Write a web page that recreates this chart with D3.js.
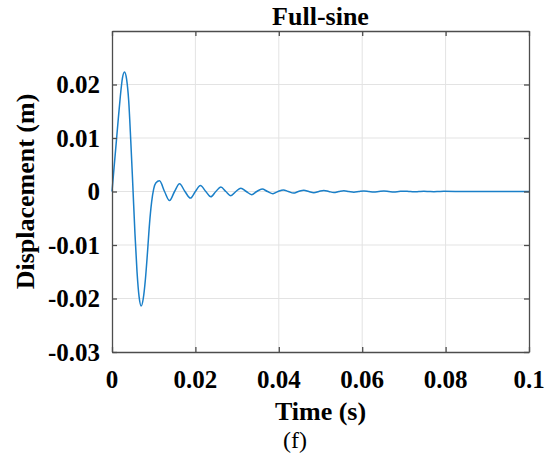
<!DOCTYPE html>
<html>
<head>
<meta charset="utf-8">
<script src="https://cdn.jsdelivr.net/npm/d3@7"></script>
<style>
  body { margin: 0; background: #fff; }
  text { font-family: "Liberation Serif", "Times New Roman", serif; fill: #000; }
</style>
</head>
<body>
<div id="chart"></div>
<script>
// time (s) and displacement (m)
const timeS = [0, 0.0005, 0.001, 0.0015, 0.002, 0.0025, 0.003, 0.0035, 0.004, 0.0045, 0.005,
  0.0055, 0.006, 0.0065, 0.007, 0.0075, 0.008, 0.0085, 0.009, 0.0095, 0.01, 0.0105, 0.0114,
  0.0126, 0.0138, 0.015, 0.0162, 0.0175, 0.0188, 0.02, 0.0212, 0.0225, 0.0237, 0.0249, 0.0261,
  0.0273, 0.0285, 0.0297, 0.0309, 0.0322, 0.0335, 0.0347, 0.036, 0.0373, 0.0386, 0.0398, 0.0411,
  0.0423, 0.0435, 0.0447, 0.046, 0.0472, 0.0484, 0.0496, 0.0508, 0.052, 0.0532, 0.0544, 0.0556,
  0.0568, 0.058, 0.0592, 0.0604, 0.0616, 0.0628, 0.064, 0.0652, 0.0664, 0.0676, 0.0688, 0.07,
  0.0712, 0.0724, 0.0736, 0.0748, 0.076, 0.0772, 0.0784, 0.0796, 0.085, 0.1];
const dispM = [0, 0.0045, 0.009, 0.0135, 0.0178, 0.0212, 0.02235, 0.021, 0.017, 0.0095, 0.001,
  -0.0078, -0.015, -0.0197, -0.0214, -0.02, -0.0165, -0.0115, -0.006, -0.002, 0.0005, 0.0016, 0.002,
  0, -0.0017, 0, 0.00143, 0, -0.00123, 0, 0.0011, 0, -0.001, 0, 0.00082,
  0, -0.00078, 0, 0.00063, 0, -0.0006, 0, 0.00045, 0, -0.0004, 0, 0.0003,
  0, -0.0003, 0, 0.00025, 0, -0.00022, 0, 0.0002, 0, -0.00018, 0, 0.00015,
  0, -0.00013, 0, 0.00011, 0, -0.0001, 0, 0.00009, 0, -0.00008, 0, 0.00007,
  0, -0.00006, 0, 0.00005, 0, -0.00004, 0, 0.00003, 0, 0];

const xTicks = [0, 0.02, 0.04, 0.06, 0.08, 0.1];
const xTickLabels = ["0", "0.02", "0.04", "0.06", "0.08", "0.1"];
const yTicks = [-0.03, -0.02, -0.01, 0, 0.01, 0.02];
const yTickLabels = ["-0.03", "-0.02", "-0.01", "0", "0.01", "0.02"];

const width = 549, height = 459,
  margin = {top: 31, right: 20, bottom: 107, left: 112};

const svg = d3.select("#chart").append("svg")
  .attr("width", width)
  .attr("height", height);

const xScale = d3.scaleLinear().domain([0, 0.1]).range([margin.left, width - margin.right]);
const yScale = d3.scaleLinear().domain([-0.03, 0.03]).range([height - margin.bottom, margin.top]);

const axisColor = "#4d4d4d";

// grid
svg.append("g").selectAll("line.gx")
  .data(xTicks.slice(1, -1))
  .enter().append("line")
  .attr("x1", d => xScale(d)).attr("x2", d => xScale(d))
  .attr("y1", yScale.range()[0]).attr("y2", yScale.range()[1])
  .attr("stroke", "#e3e3e3").attr("stroke-width", 1);

svg.append("g").selectAll("line.gy")
  .data(yTicks.slice(1))
  .enter().append("line")
  .attr("x1", xScale.range()[0]).attr("x2", xScale.range()[1])
  .attr("y1", d => yScale(d)).attr("y2", d => yScale(d))
  .attr("stroke", "#e3e3e3").attr("stroke-width", 1);

// curve
const data = timeS.map((t, i) => ({t: t, y: dispM[i]}));
const line = d3.line()
  .x(d => xScale(d.t))
  .y(d => yScale(d.y))
  .curve(d3.curveMonotoneX);

svg.append("path")
  .datum(data)
  .attr("d", line)
  .attr("fill", "none")
  .attr("stroke", "#1a7fc8")
  .attr("stroke-width", 1.5);

// axes (inward ticks on all four sides)
const tickLen = 5;
svg.append("g")
  .attr("transform", "translate(0," + yScale.range()[0] + ")")
  .call(d3.axisBottom(xScale).tickValues(xTicks).tickSizeInner(-tickLen).tickSizeOuter(0).tickFormat(""));
svg.append("g")
  .attr("transform", "translate(0," + yScale.range()[1] + ")")
  .call(d3.axisTop(xScale).tickValues(xTicks).tickSizeInner(-tickLen).tickSizeOuter(0).tickFormat(""));
svg.append("g")
  .attr("transform", "translate(" + xScale.range()[0] + ",0)")
  .call(d3.axisLeft(yScale).tickValues(yTicks).tickSizeInner(-tickLen).tickSizeOuter(0).tickFormat(""));
svg.append("g")
  .attr("transform", "translate(" + xScale.range()[1] + ",0)")
  .call(d3.axisRight(yScale).tickValues(yTicks).tickSizeInner(-tickLen).tickSizeOuter(0).tickFormat(""));

svg.selectAll(".domain, .tick line")
  .attr("stroke", axisColor)
  .attr("stroke-width", 1.3);

// tick labels
svg.append("g").selectAll("text")
  .data(xTicks)
  .enter().append("text")
  .attr("x", d => xScale(d))
  .attr("y", 388)
  .attr("text-anchor", "middle")
  .attr("font-size", 25)
  .attr("font-weight", "bold")
  .text((d, i) => xTickLabels[i]);

svg.append("g").selectAll("text")
  .data(yTicks)
  .enter().append("text")
  .attr("x", 100)
  .attr("y", d => yScale(d))
  .attr("dy", "0.34em")
  .attr("text-anchor", "end")
  .attr("font-size", 25)
  .attr("font-weight", "bold")
  .text((d, i) => yTickLabels[i]);

// labels
svg.append("text")
  .attr("x", (xScale.range()[0] + xScale.range()[1]) / 2)
  .attr("y", 25)
  .attr("text-anchor", "middle")
  .attr("font-size", 26)
  .attr("font-weight", "bold")
  .text("Full-sine");

svg.append("text")
  .attr("x", (xScale.range()[0] + xScale.range()[1]) / 2)
  .attr("y", 420)
  .attr("text-anchor", "middle")
  .attr("font-size", 26)
  .attr("font-weight", "bold")
  .text("Time (s)");

svg.append("text")
  .attr("transform", "translate(34," + (yScale.range()[0] + yScale.range()[1]) / 2 + ") rotate(-90)")
  .attr("text-anchor", "middle")
  .attr("font-size", 26)
  .attr("font-weight", "bold")
  .text("Displacement (m)");

svg.append("text")
  .attr("x", 295)
  .attr("y", 448)
  .attr("text-anchor", "middle")
  .attr("font-size", 24)
  .text("(f)");
</script>
</body>
</html>
